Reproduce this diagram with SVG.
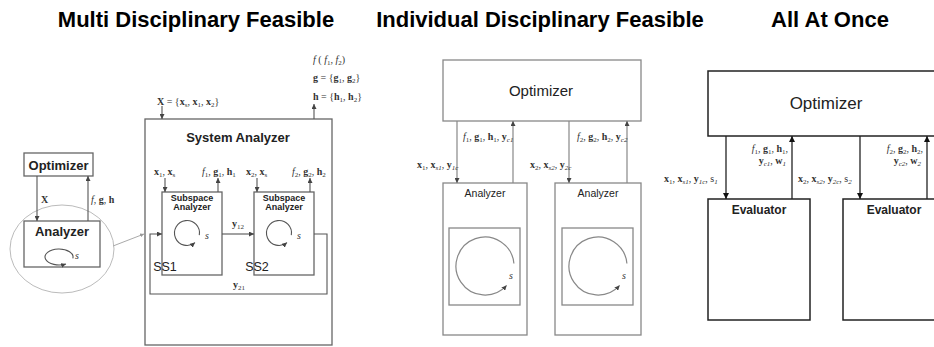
<svg xmlns="http://www.w3.org/2000/svg" width="934" height="347" viewBox="0 0 934 347">
<defs>
<marker id="ag" viewBox="0 0 6 6" refX="6" refY="3" markerWidth="5" markerHeight="5" markerUnits="userSpaceOnUse" orient="auto"><path d="M0,0 L6,3 L0,6 z" fill="#444"/></marker>
<marker id="ak" viewBox="0 0 6 6" refX="6" refY="3" markerWidth="6" markerHeight="6" markerUnits="userSpaceOnUse" orient="auto"><path d="M0,0 L6,3 L0,6 z" fill="#111"/></marker>
<marker id="al" viewBox="0 0 6 6" refX="6" refY="3" markerWidth="4" markerHeight="4" markerUnits="userSpaceOnUse" orient="auto"><path d="M0,0 L6,3 L0,6 z" fill="#999"/></marker>
</defs>
<style>
.title{font-family:"Liberation Sans",Arial,sans-serif;font-weight:bold;font-size:22px;fill:#000;text-anchor:middle}
.box{fill:#fff;stroke:#666;stroke-width:1.3}
.boxm{fill:#fff;stroke:#888;stroke-width:1.3}
.boxk{fill:#fff;stroke:#222;stroke-width:1.5}
.ln{fill:none;stroke:#555;stroke-width:1.1}
.lnm{fill:none;stroke:#888;stroke-width:1.2}
.lnk{fill:none;stroke:#222;stroke-width:1.3}
.sans{font-family:"Liberation Sans",Arial,sans-serif;fill:#222;text-anchor:middle}
.bold{font-weight:bold}
.m{font-family:"Liberation Serif","Times New Roman",serif;font-size:10px;fill:#333}
.b{font-weight:bold}
.i{font-style:italic}
.s{font-size:7px}
</style>
<rect width="934" height="347" fill="#fff"/>

<!-- titles -->
<text class="title" x="196" y="27">Multi Disciplinary Feasible</text>
<text class="title" x="540" y="27">Individual Disciplinary Feasible</text>
<text class="title" x="830" y="27">All At Once</text>

<!-- ===== Multi Disciplinary Feasible ===== -->
<ellipse cx="62" cy="249" rx="52" ry="44" fill="none" stroke="#bbb" stroke-width="1"/>
<g id="mdf-optimizer">
<rect class="box" x="24" y="153" width="69" height="23"/>
<text class="sans bold" x="58.5" y="170" font-size="13">Optimizer</text>
</g>
<g id="mdf-analyzer">
<rect class="box" x="24" y="221" width="76" height="46"/>
<text class="sans bold" x="62" y="236" font-size="13">Analyzer</text>
<path class="ln" d="M72.8,258.4 A14,8 0 1 0 66,263.9" marker-end="url(#ag)"/>
<text class="m i" x="75" y="259" font-size="8">s</text>
</g>
<g id="mdf-system">
<rect class="box" x="145" y="119" width="187" height="226"/>
<text class="sans bold" x="238" y="142" font-size="13">System Analyzer</text>
</g>
<g id="mdf-ss1">
<rect class="box" x="162" y="192" width="60" height="83"/>
<text class="sans bold" x="192" y="201" font-size="9" fill="#444">Subspace</text>
<text class="sans bold" x="192" y="210" font-size="9" fill="#444">Analyzer</text>
<path class="ln" d="M199.3,235.2 A12.5,12.5 0 1 0 195,242.6" marker-end="url(#ag)"/>
<text class="m i" x="205" y="239" font-size="8">s</text>
<text class="sans" x="165" y="271" font-size="12.5" text-anchor="start">SS1</text>
</g>
<g id="mdf-ss2">
<rect class="box" x="254" y="192" width="60" height="83"/>
<text class="sans bold" x="284" y="201" font-size="9" fill="#444">Subspace</text>
<text class="sans bold" x="284" y="210" font-size="9" fill="#444">Analyzer</text>
<path class="ln" d="M291.3,235.2 A12.5,12.5 0 1 0 287,242.6" marker-end="url(#ag)"/>
<text class="m i" x="297" y="239" font-size="8">s</text>
<text class="sans" x="257" y="271" font-size="12.5" text-anchor="start">SS2</text>
</g>

<g id="mdf-connectors">
<line class="ln" x1="37" y1="176" x2="37" y2="221" marker-end="url(#ag)"/>
<line class="ln" x1="88" y1="221" x2="88" y2="176" marker-end="url(#ag)"/>
<line x1="113" y1="246" x2="144" y2="234" stroke="#aaa" stroke-width="1" marker-end="url(#al)"/>
<line class="ln" x1="162" y1="106" x2="162" y2="119" marker-end="url(#ag)"/>
<line class="ln" x1="314" y1="119" x2="314" y2="104" marker-end="url(#ag)"/>
<line class="ln" x1="165" y1="178" x2="165" y2="192" marker-end="url(#ag)"/>
<line class="ln" x1="218" y1="192" x2="218" y2="178" marker-end="url(#ag)"/>
<line class="ln" x1="257" y1="178" x2="257" y2="192" marker-end="url(#ag)"/>
<line class="ln" x1="310" y1="192" x2="310" y2="178" marker-end="url(#ag)"/>
<line class="ln" x1="222" y1="234" x2="254" y2="234" marker-end="url(#ag)"/>
<path class="ln" d="M314,234 H327 V294 H150 V234 H162" marker-end="url(#ag)"/>
</g>

<g id="mdf-labels">
<text class="m b" x="41" y="203">X</text>
<text class="m" x="91" y="203"><tspan class="i">f</tspan>, <tspan class="b">g</tspan>, <tspan class="b">h</tspan></text>
<text class="m" x="157" y="105"><tspan class="b">X</tspan> = {<tspan class="b">x</tspan><tspan class="s" dy="2">s</tspan><tspan dy="-2">, </tspan><tspan class="b">x</tspan><tspan class="s" dy="2">1</tspan><tspan dy="-2">, </tspan><tspan class="b">x</tspan><tspan class="s" dy="2">2</tspan><tspan dy="-2">}</tspan></text>
<text class="m" x="313" y="63"><tspan class="i">f</tspan> ( <tspan class="i">f</tspan><tspan class="s" dy="2">1</tspan><tspan dy="-2">, </tspan><tspan class="i">f</tspan><tspan class="s" dy="2">2</tspan><tspan dy="-2">)</tspan></text>
<text class="m" x="313" y="81"><tspan class="b">g</tspan> = {<tspan class="b">g</tspan><tspan class="s" dy="2">1</tspan><tspan dy="-2">, </tspan><tspan class="b">g</tspan><tspan class="s" dy="2">2</tspan><tspan dy="-2">}</tspan></text>
<text class="m" x="313" y="100"><tspan class="b">h</tspan> = {<tspan class="b">h</tspan><tspan class="s" dy="2">1</tspan><tspan dy="-2">, </tspan><tspan class="b">h</tspan><tspan class="s" dy="2">2</tspan><tspan dy="-2">}</tspan></text>
<text class="m" x="154" y="175"><tspan class="b">x</tspan><tspan class="s" dy="2">1</tspan><tspan dy="-2">, </tspan><tspan class="b">x</tspan><tspan class="s" dy="2">s</tspan></text>
<text class="m" x="202" y="175"><tspan class="i">f</tspan><tspan class="s" dy="2">1</tspan><tspan dy="-2">, </tspan><tspan class="b">g</tspan><tspan class="s" dy="2">1</tspan><tspan dy="-2">, </tspan><tspan class="b">h</tspan><tspan class="s" dy="2">1</tspan></text>
<text class="m" x="246" y="175"><tspan class="b">x</tspan><tspan class="s" dy="2">2</tspan><tspan dy="-2">, </tspan><tspan class="b">x</tspan><tspan class="s" dy="2">s</tspan></text>
<text class="m" x="292" y="175"><tspan class="i">f</tspan><tspan class="s" dy="2">2</tspan><tspan dy="-2">, </tspan><tspan class="b">g</tspan><tspan class="s" dy="2">2</tspan><tspan dy="-2">, </tspan><tspan class="b">h</tspan><tspan class="s" dy="2">2</tspan></text>
<text class="m" x="232" y="227"><tspan class="b">y</tspan><tspan class="s" dy="2">12</tspan></text>
<text class="m" x="233" y="288"><tspan class="b">y</tspan><tspan class="s" dy="2">21</tspan></text>
</g>

<!-- ===== Individual Disciplinary Feasible ===== -->
<g id="idf-optimizer">
<rect class="boxm" x="443" y="60" width="198" height="61"/>
<text class="sans" x="541" y="96" font-size="15">Optimizer</text>
</g>
<g id="idf-analyzer1">
<rect class="boxm" x="443" y="183" width="84" height="152"/>
<text class="sans" x="485" y="197" font-size="10.5">Analyzer</text>
<rect class="boxm" x="449" y="228" width="71" height="77"/>
<path class="lnm" d="M513.9,263.5 A29,29 0 1 0 506.6,285.4" marker-end="url(#ag)"/>
<text class="m i" x="509" y="279" font-size="9">s</text>
</g>
<g id="idf-analyzer2">
<rect class="boxm" x="555" y="183" width="86" height="152"/>
<text class="sans" x="598" y="197" font-size="10.5">Analyzer</text>
<rect class="boxm" x="562" y="228" width="71" height="77"/>
<path class="lnm" d="M626.9,263.5 A29,29 0 1 0 619.6,285.4" marker-end="url(#ag)"/>
<text class="m i" x="622" y="279" font-size="9">s</text>
</g>
<g id="idf-connectors">
<line class="lnm" x1="457" y1="121" x2="457" y2="183" marker-end="url(#ag)"/>
<line class="lnm" x1="513" y1="183" x2="513" y2="121" marker-end="url(#ag)"/>
<line class="lnm" x1="569" y1="121" x2="569" y2="183" marker-end="url(#ag)"/>
<line class="lnm" x1="627" y1="183" x2="627" y2="121" marker-end="url(#ag)"/>
</g>
<g id="idf-labels">
<text class="m" x="463" y="140" font-size="9"><tspan class="i">f</tspan><tspan class="s" dy="2">1</tspan><tspan dy="-2">, </tspan><tspan class="b">g</tspan><tspan class="s" dy="2">1</tspan><tspan dy="-2">, </tspan><tspan class="b">h</tspan><tspan class="s" dy="2">1</tspan><tspan dy="-2">, </tspan><tspan class="b">y</tspan><tspan class="s i" dy="2">c1</tspan></text>
<text class="m" x="417" y="168" font-size="9"><tspan class="b">x</tspan><tspan class="s" dy="2">1</tspan><tspan dy="-2">, </tspan><tspan class="b">x</tspan><tspan class="s i" dy="2">s1</tspan><tspan dy="-2">, </tspan><tspan class="b">y</tspan><tspan class="s i" dy="2">1c</tspan></text>
<text class="m" x="577" y="140" font-size="9"><tspan class="i">f</tspan><tspan class="s" dy="2">2</tspan><tspan dy="-2">, </tspan><tspan class="b">g</tspan><tspan class="s" dy="2">2</tspan><tspan dy="-2">, </tspan><tspan class="b">h</tspan><tspan class="s" dy="2">2</tspan><tspan dy="-2">, </tspan><tspan class="b">y</tspan><tspan class="s i" dy="2">c2</tspan></text>
<text class="m" x="530" y="168" font-size="9"><tspan class="b">x</tspan><tspan class="s" dy="2">2</tspan><tspan dy="-2">, </tspan><tspan class="b">x</tspan><tspan class="s i" dy="2">s2</tspan><tspan dy="-2">, </tspan><tspan class="b">y</tspan><tspan class="s i" dy="2">2c</tspan></text>
</g>

<!-- ===== All At Once ===== -->
<g id="aao-optimizer">
<rect class="boxk" x="708" y="71" width="240" height="65"/>
<text class="sans" x="826" y="109" font-size="17">Optimizer</text>
</g>
<g id="aao-evaluator1">
<rect class="boxk" x="708" y="199" width="102" height="121"/>
<text class="sans bold" x="759" y="214" font-size="12" fill="#333">Evaluator</text>
</g>
<g id="aao-evaluator2">
<rect class="boxk" x="843" y="199" width="100" height="121"/>
<text class="sans bold" x="894" y="214" font-size="12" fill="#333">Evaluator</text>
</g>
<g id="aao-connectors">
<line class="lnk" x1="726" y1="136" x2="726" y2="199" marker-end="url(#ak)"/>
<line class="lnk" x1="792" y1="199" x2="792" y2="136" marker-end="url(#ak)"/>
<line class="lnk" x1="860" y1="136" x2="860" y2="199" marker-end="url(#ak)"/>
<line class="lnk" x1="927" y1="199" x2="927" y2="136" marker-end="url(#ak)"/>
</g>
<g id="aao-labels">
<text class="m" x="788" y="152" font-size="9.5" text-anchor="end"><tspan class="i">f</tspan><tspan class="s" dy="2">1</tspan><tspan dy="-2">, </tspan><tspan class="b">g</tspan><tspan class="s" dy="2">1</tspan><tspan dy="-2">, </tspan><tspan class="b">h</tspan><tspan class="s" dy="2">1</tspan><tspan dy="-2">,</tspan></text>
<text class="m" x="786" y="164" font-size="9.5" text-anchor="end"><tspan class="b">y</tspan><tspan class="s i" dy="2">c1</tspan><tspan dy="-2">, </tspan><tspan class="b">w</tspan><tspan class="s i" dy="2">1</tspan></text>
<text class="m" x="664" y="182" font-size="9.5"><tspan class="b">x</tspan><tspan class="s" dy="2">1</tspan><tspan dy="-2">, </tspan><tspan class="b">x</tspan><tspan class="s i" dy="2">s1</tspan><tspan dy="-2">, </tspan><tspan class="b">y</tspan><tspan class="s i" dy="2">1c</tspan><tspan dy="-2">, </tspan>s<tspan class="s i" dy="2">1</tspan></text>
<text class="m" x="923" y="152" font-size="9.5" text-anchor="end"><tspan class="i">f</tspan><tspan class="s" dy="2">2</tspan><tspan dy="-2">, </tspan><tspan class="b">g</tspan><tspan class="s" dy="2">2</tspan><tspan dy="-2">, </tspan><tspan class="b">h</tspan><tspan class="s" dy="2">2</tspan><tspan dy="-2">,</tspan></text>
<text class="m" x="921" y="164" font-size="9.5" text-anchor="end"><tspan class="b">y</tspan><tspan class="s i" dy="2">c2</tspan><tspan dy="-2">, </tspan><tspan class="b">w</tspan><tspan class="s i" dy="2">2</tspan></text>
<text class="m" x="798" y="182" font-size="9.5"><tspan class="b">x</tspan><tspan class="s" dy="2">2</tspan><tspan dy="-2">, </tspan><tspan class="b">x</tspan><tspan class="s i" dy="2">s2</tspan><tspan dy="-2">, </tspan><tspan class="b">y</tspan><tspan class="s i" dy="2">2c</tspan><tspan dy="-2">, </tspan>s<tspan class="s i" dy="2">2</tspan></text>
</g>
</svg>
